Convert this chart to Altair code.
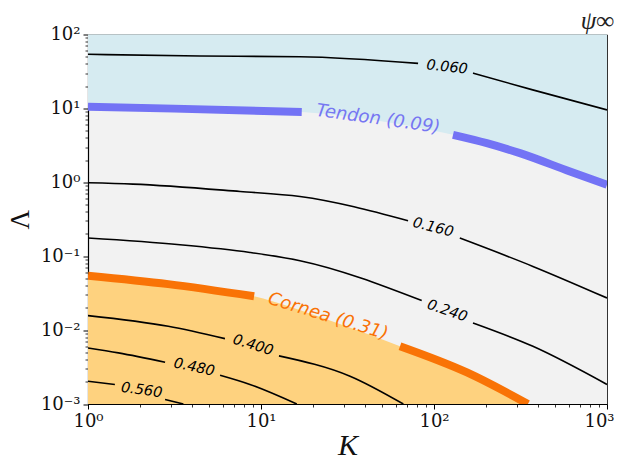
import altair as alt
import pandas as pd

# ---------------- axis ticks ----------------
K_TICKS = [1, 10, 100, 1000]
K_TICK_LABELS = ["10⁰", "10¹", "10²", "10³"]
K_MINOR = [2, 3, 4, 5, 6, 7, 8, 9, 20, 30, 40, 50, 60, 70, 80, 90,
           200, 300, 400, 500, 600, 700, 800, 900]
L_TICKS = [0.001, 0.01, 0.1, 1, 10, 100]
L_TICK_LABELS = ["10⁻³", "10⁻²", "10⁻¹", "10⁰", "10¹", "10²"]
L_MINOR = [0.002, 0.003, 0.004, 0.005, 0.006, 0.007, 0.008, 0.009,
           0.02, 0.03, 0.04, 0.05, 0.06, 0.07, 0.08, 0.09,
           0.2, 0.3, 0.4, 0.5, 0.6, 0.7, 0.8, 0.9,
           2, 3, 4, 5, 6, 7, 8, 9,
           20, 30, 40, 50, 60, 70, 80, 90]

# ---------------- contour lines (K, Lambda, segment) ----------------
c060_K = [1, 4.44, 16.8, 80.9, 168, 372, 1000]
c060_L = [54.0, 51.2, 50.1, 40.7, 30.0, 17.8, 9.55]
c060_seg = [0, 0, 0, 0, 1, 1, 1]

c160_K = [1, 1.82, 7.57, 16.8, 70.8, 141, 373, 1000]
c160_L = [0.985, 0.946, 0.752, 0.643, 0.302, 0.176, 0.0728, 0.0272]
c160_seg = [0, 0, 0, 0, 0, 1, 1, 1]

c240_K = [1, 3.40, 8.63, 16.8, 84.9, 168, 373, 1000]
c240_L = [0.176, 0.143, 0.1125, 0.0869, 0.0251, 0.0125, 0.00604, 0.00184]
c240_seg = [0, 0, 0, 0, 0, 1, 1, 1]

c400_K = [1, 2.91, 6.19, 12.7, 32.7, 66.5]
c400_L = [0.0157, 0.01125, 0.00767, 0.00448, 0.00238, 0.001]
c400_seg = [0, 0, 0, 1, 1, 1]

c480_K = [1, 1.50, 2.79, 5.80, 8.63, 16.1]
c480_L = [0.00574, 0.00492, 0.00367, 0.00245, 0.00184, 0.001]
c480_seg = [0, 0, 0, 1, 1, 1]

c560_K = [1, 1.43, 2.79, 3.56]
c560_L = [0.00203, 0.00184, 0.00115, 0.001]
c560_seg = [0, 0, 1, 1]

# thick tissue contours (segment -1 = hidden under label, used for the fill only)
tendon_K = [1, 3.14, 17.2, 47.5, 128.8, 202, 314, 611, 1000]
tendon_L = [10.5, 9.93, 8.97, 6.8, 4.39, 3.39, 2.48, 1.40, 0.925]
tendon_seg = [0, 0, 0, -1, 1, 1, 1, 1, 1]

cornea_K = [1, 2.91, 9.12, 24.1, 63.6, 155, 349]
cornea_L = [0.0545, 0.0419, 0.0287, 0.0139, 0.00604, 0.00267, 0.001]
cornea_seg = [0, 0, 0, -1, 1, 1, 1]

# ---------------- labels ----------------
lab_text = ["0.060", "0.160", "0.240", "0.400", "0.480", "0.560"]
lab_K = [119, 98.7, 119, 8.99, 4.10, 2.04]
lab_L = [35.8, 0.243, 0.0180, 0.00618, 0.00311, 0.00152]
lab_angle = [6, 14, 19, 17, 12, 8]

tis_text = ["Tendon (0.09)", "Cornea (0.31)"]
tis_K = [47.5, 24.4]
tis_L = [7.10, 0.0152]
tis_angle = [8, 17]
tis_color = ["#7676f2", "#f97306"]

BLUE_LINE = "#7373f5"
ORANGE_LINE = "#f97306"
BLUE_FILL = "#d6ebf1"
ORANGE_FILL = "#fed27f"
GREY_FILL = "#f2f2f2"

# ---------------- build tables ----------------
rows = []
for name, Ks, Ls, segs in [("0.060", c060_K, c060_L, c060_seg),
                           ("0.160", c160_K, c160_L, c160_seg),
                           ("0.240", c240_K, c240_L, c240_seg),
                           ("0.400", c400_K, c400_L, c400_seg),
                           ("0.480", c480_K, c480_L, c480_seg),
                           ("0.560", c560_K, c560_L, c560_seg)]:
    for k, l, s in zip(Ks, Ls, segs):
        rows.append({"level": name, "K": k, "L": l, "seg": f"{name}-{s}"})
contours = pd.DataFrame(rows)

tendon = pd.DataFrame({"K": tendon_K, "L": tendon_L, "seg": tendon_seg})
cornea = pd.DataFrame({"K": cornea_K, "L": cornea_L, "seg": cornea_seg})
labels = pd.DataFrame({"text": lab_text, "K": lab_K, "L": lab_L, "angle": lab_angle})
tissues = pd.DataFrame({"text": tis_text, "K": tis_K, "L": tis_L,
                        "angle": tis_angle, "color": tis_color})

xscale = alt.Scale(type="log", domain=[1, 1000], nice=False)
yscale = alt.Scale(type="log", domain=[0.001, 100], nice=False)


def expr(vals, labs):
    parts = [f"datum.value == {v} ? '{t}'" for v, t in zip(vals, labs)]
    return " : ".join(parts) + " : ''"


SERIF = "Liberation Serif"
TICKFONT = "DejaVu Serif"

x_major = alt.Axis(values=K_TICKS, labelExpr=expr(K_TICKS, K_TICK_LABELS),
                   orient="bottom", tickSize=5, tickWidth=1, tickColor="black",
                   labelFont=TICKFONT, labelFontSize=18, labelColor="#111",
                   labelPadding=3, grid=False, domain=True, domainColor="black",
                   domainWidth=1.2, title="K", titleFont=SERIF, titleFontStyle="italic",
                   titleFontWeight="normal", titleFontSize=30, titleColor="#111",
                   titlePadding=0, labelFlush=False,
                   labelOffset={"condition": {"test": f"datum.value == {K_TICKS[-1]}",
                                              "value": -8}, "value": 0})
x_minor = alt.Axis(values=K_MINOR, orient="bottom", labels=False, tickSize=3,
                   tickWidth=0.8, tickColor="black", domain=False, grid=False,
                   title=None)
y_major = alt.Axis(values=L_TICKS, labelExpr=expr(L_TICKS, L_TICK_LABELS),
                   orient="left", tickSize=5, tickWidth=1, tickColor="black",
                   labelFont=TICKFONT, labelFontSize=18, labelColor="#111",
                   labelPadding=3, grid=False, domain=True, domainColor="black",
                   domainWidth=1.2, title="Λ", titleFont=SERIF,
                   titleFontWeight="normal", titleFontSize=27, titleColor="#111",
                   titlePadding=6, labelFlush=False)
y_minor = alt.Axis(values=L_MINOR, orient="left", labels=False, tickSize=3,
                   tickWidth=0.8, tickColor="black", domain=False, grid=False,
                   title=None)

blue_area = alt.Chart(tendon).mark_area(color=BLUE_FILL, interpolate="monotone").encode(
    x=alt.X("K:Q", scale=xscale, axis=x_major),
    y=alt.Y("L:Q", scale=yscale, axis=y_major),
    y2=alt.datum(100),
)
orange_area = alt.Chart(cornea).mark_area(color=ORANGE_FILL, interpolate="monotone").encode(
    x=alt.X("K:Q", scale=xscale, axis=x_minor),
    y=alt.Y("L:Q", scale=yscale, axis=y_minor),
    y2=alt.datum(0.001),
)

black_lines = alt.Chart(contours).mark_line(
    color="black", strokeWidth=1.6, interpolate="monotone", clip=True).encode(
    x=alt.X("K:Q", scale=xscale, axis=None),
    y=alt.Y("L:Q", scale=yscale, axis=None),
    detail="seg:N",
)

tendon_line = alt.Chart(tendon).transform_filter("datum.seg >= 0").mark_line(
    color=BLUE_LINE, strokeWidth=8, interpolate="monotone", clip=True).encode(
    x=alt.X("K:Q", scale=xscale, axis=None),
    y=alt.Y("L:Q", scale=yscale, axis=None),
    detail="seg:N",
)
cornea_line = alt.Chart(cornea).transform_filter("datum.seg >= 0").mark_line(
    color=ORANGE_LINE, strokeWidth=8, interpolate="monotone", clip=True).encode(
    x=alt.X("K:Q", scale=xscale, axis=None),
    y=alt.Y("L:Q", scale=yscale, axis=None),
    detail="seg:N",
)

contour_text = alt.Chart(labels).mark_text(
    font="DejaVu Sans", fontStyle="italic", fontSize=14.5, color="black",
    align="center", baseline="middle").encode(
    x=alt.X("K:Q", scale=xscale, axis=None),
    y=alt.Y("L:Q", scale=yscale, axis=None),
    text="text:N",
    angle=alt.Angle("angle:Q", scale=None),
)
tissue_text = alt.Chart(tissues).mark_text(
    font="DejaVu Sans", fontStyle="italic", fontSize=18,
    align="center", baseline="middle").encode(
    x=alt.X("K:Q", scale=xscale, axis=None),
    y=alt.Y("L:Q", scale=yscale, axis=None),
    text="text:N",
    angle=alt.Angle("angle:Q", scale=None),
    color=alt.Color("color:N", scale=None),
)

chart = alt.layer(
    blue_area, orange_area, black_lines, tendon_line, cornea_line,
    contour_text, tissue_text,
).resolve_axis(x="independent", y="independent").properties(
    width=519, height=369.5,
    autosize="none",
    padding={"left": 80, "top": 26.5, "right": 7, "bottom": 56},
    background="white",
    title=alt.TitleParams("ψ∞", anchor="end", font=SERIF, fontStyle="italic",
                          fontWeight="normal", fontSize=25, color="#222",
                          offset=-8),
).configure_view(fill=GREY_FILL, stroke="#333", strokeWidth=1)

chart.save("out.html", embed_options={"renderer": "svg", "actions": False})
